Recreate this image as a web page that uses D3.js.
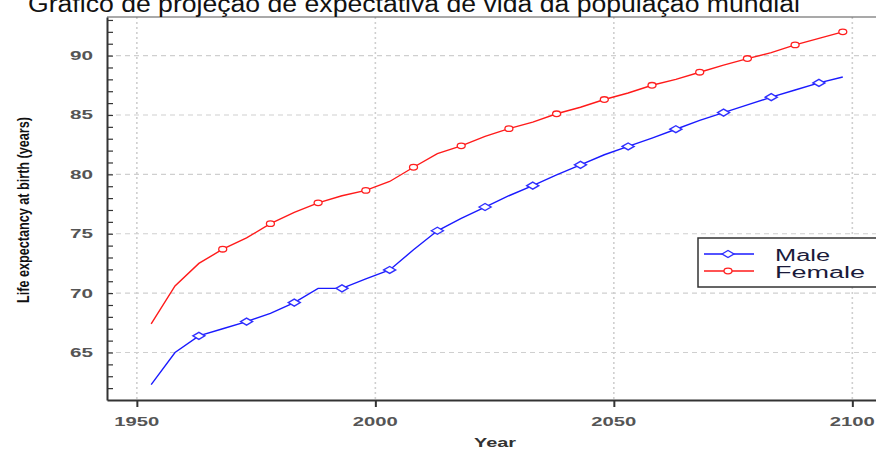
<!DOCTYPE html>
<html>
<head>
<meta charset="utf-8">
<script src="https://cdn.jsdelivr.net/npm/d3@7"></script>
<style>
  body { margin: 0; background: #fff; }
  text { font-family: "Liberation Sans", Arial, sans-serif; }
</style>
</head>
<body>
<div id="chart"></div>
<script>
// data (5-year periods)
var years = [1953, 1958, 1963, 1968, 1973, 1978, 1983, 1988, 1993, 1998,
             2003, 2008, 2013, 2018, 2023, 2028, 2033, 2038, 2043, 2048,
             2053, 2058, 2063, 2068, 2073, 2078, 2083, 2088, 2093, 2098]
var male = [62.3, 65.0, 66.4, 67.0, 67.6, 68.3, 69.2, 70.4, 70.4, 71.2,
            71.95, 73.65, 75.25, 76.3, 77.25, 78.2, 79.05, 79.95, 80.8, 81.65,
            82.35, 83.05, 83.8, 84.55, 85.2, 85.85, 86.5, 87.1, 87.7, 88.2]
var female = [67.4, 70.6, 72.5, 73.7, 74.65, 75.85, 76.8, 77.6, 78.2, 78.65,
              79.4, 80.6, 81.75, 82.4, 83.2, 83.85, 84.4, 85.1, 85.65, 86.3,
              86.85, 87.5, 88.0, 88.6, 89.2, 89.75, 90.25, 90.9, 91.45, 92.0]
var xTicks = [1950, 2000, 2050, 2100]
var yTicks = [65, 70, 75, 80, 85, 90]
var seriesNames = ["Male", "Female"]

var W = 876, H = 450
var margin = {top: 17, right: -4, bottom: 50, left: 107}
var width = W - margin.left - margin.right,
    height = H - margin.top - margin.bottom

var svg = d3.select("#chart").append("svg")
    .attr("width", W)
    .attr("height", H)

var g = svg.append("g")
    .attr("transform", "translate(" + margin.left + "," + margin.top + ")")

var x = d3.scaleLinear().domain([1943.74, 2105.8]).range([0, width])
var y = d3.scaleLinear().domain([61, 93.25]).range([height, 0])

// grid
g.selectAll(".hgrid")
  .data(yTicks)
  .enter().append("line")
  .attr("x1", 0).attr("x2", width)
  .attr("y1", d => y(d)).attr("y2", d => y(d))
  .attr("stroke", "#cfcfcf")
  .attr("stroke-width", 1.2)
  .attr("stroke-dasharray", "5,4")

g.selectAll(".vgrid")
  .data(xTicks)
  .enter().append("line")
  .attr("x1", d => x(d)).attr("x2", d => x(d))
  .attr("y1", 0).attr("y2", height)
  .attr("stroke", "#cfcfcf")
  .attr("stroke-width", 1.6)
  .attr("stroke-dasharray", "2,3")

// box top
g.append("line")
  .attr("x1", 0).attr("x2", width)
  .attr("y1", 0).attr("y2", 0)
  .attr("stroke", "#555").attr("stroke-width", 1.2)

// lines
var maleData = years.map((yr, i) => ({year: yr, v: male[i], i: i}))
var femaleData = years.map((yr, i) => ({year: yr, v: female[i], i: i}))

var line = d3.line().x(d => x(d.year)).y(d => y(d.v))

g.append("path").datum(maleData)
  .attr("fill", "none").attr("stroke", "#1a1aff").attr("stroke-width", 1.4)
  .attr("d", line)

g.append("path").datum(femaleData)
  .attr("fill", "none").attr("stroke", "#ff1a1a").attr("stroke-width", 1.4)
  .attr("d", line)

var diamond = "M-6,0L0,-3.5L6,0L0,3.5Z"

g.selectAll(".mpt")
  .data(maleData.filter(d => d.i >= 2 && d.i % 2 === 0 && d.i < years.length - 1))
  .enter().append("path")
  .attr("d", diamond)
  .attr("transform", d => "translate(" + x(d.year) + "," + y(d.v) + ")")
  .attr("fill", "#fff").attr("stroke", "#3030ff").attr("stroke-width", 1.4)

g.selectAll(".fpt")
  .data(femaleData.filter(d => d.i >= 3 && d.i % 2 === 1))
  .enter().append("ellipse")
  .attr("cx", d => x(d.year)).attr("cy", d => y(d.v))
  .attr("rx", 4).attr("ry", 2.8)
  .attr("fill", "#fff").attr("stroke", "#ff2020").attr("stroke-width", 1.3)

// axes
var yAxis = d3.axisLeft(y).tickValues(d3.range(62, 94)).tickSizeInner(-6).tickSizeOuter(0).tickFormat("")
g.append("g").attr("class", "axis y-axis").call(yAxis)
  .call(s => s.select(".domain").attr("stroke", "#333").attr("stroke-width", 2))
  .call(s => s.selectAll(".tick line").attr("stroke", "#333").attr("stroke-width", 1.2))

g.selectAll(".ylab")
  .data(yTicks)
  .enter().append("text")
  .attr("x", -14).attr("y", d => y(d) + 4.5)
  .attr("text-anchor", "end")
  .attr("font-size", 12).attr("font-weight", "bold").attr("fill", "#555")
  .attr("textLength", 23).attr("lengthAdjust", "spacingAndGlyphs")
  .text(d => d)

var xAxis = d3.axisBottom(x).tickValues(xTicks).tickSize(7).tickSizeOuter(0).tickFormat("")
g.append("g").attr("class", "axis x-axis")
  .attr("transform", "translate(0," + height + ")")
  .call(xAxis)
  .call(s => s.select(".domain").attr("stroke", "#333").attr("stroke-width", 2))
  .call(s => s.selectAll(".tick line").attr("stroke", "#333").attr("stroke-width", 2))

g.selectAll(".xlab")
  .data(xTicks)
  .enter().append("text")
  .attr("x", d => x(d)).attr("y", height + 26)
  .attr("text-anchor", "middle")
  .attr("font-size", 12).attr("font-weight", "bold").attr("fill", "#555")
  .attr("textLength", 45).attr("lengthAdjust", "spacingAndGlyphs")
  .text(d => d)

// axis titles
svg.append("text")
  .attr("x", 495).attr("y", 447)
  .attr("text-anchor", "middle")
  .attr("font-size", 12).attr("font-weight", "bold").attr("fill", "#333")
  .attr("textLength", 42).attr("lengthAdjust", "spacingAndGlyphs")
  .text("Year")

svg.append("text")
  .attr("transform", "translate(29,210) rotate(-90)")
  .attr("text-anchor", "middle")
  .attr("font-size", 16).attr("font-weight", "bold").attr("fill", "#111")
  .attr("textLength", 186).attr("lengthAdjust", "spacingAndGlyphs")
  .text("Life expectancy at birth (years)")

// title (cut at top, as in the original)
svg.append("text")
  .attr("x", 28).attr("y", 12)
  .attr("font-size", 23).attr("fill", "#111")
  .attr("textLength", 772).attr("lengthAdjust", "spacingAndGlyphs")
  .text("Gráfico de projeção de expectativa de vida da população mundial")

// legend
var legend = svg.append("g").attr("transform", "translate(698,238)")
legend.append("rect")
  .attr("width", 190).attr("height", 49)
  .attr("fill", "#fff").attr("stroke", "#333").attr("stroke-width", 1.5)

var colors = ["#1a1aff", "#ff1a1a"]
var lengths = [55, 90]
seriesNames.forEach(function(name, i) {
  var ly = 16 + i * 17
  legend.append("line")
    .attr("x1", 6).attr("x2", 56).attr("y1", ly).attr("y2", ly)
    .attr("stroke", colors[i]).attr("stroke-width", 1.4)
  if (i === 0) {
    legend.append("path").attr("d", diamond)
      .attr("transform", "translate(30," + ly + ")")
      .attr("fill", "#fff").attr("stroke", "#3030ff").attr("stroke-width", 1.4)
  } else {
    legend.append("ellipse").attr("cx", 30).attr("cy", ly).attr("rx", 4).attr("ry", 2.8)
      .attr("fill", "#fff").attr("stroke", "#ff2020").attr("stroke-width", 1.3)
  }
  legend.append("text")
    .attr("x", 77).attr("y", ly + 7)
    .attr("font-size", 16).attr("fill", "#1a1a3a")
    .attr("textLength", lengths[i]).attr("lengthAdjust", "spacingAndGlyphs")
    .text(name)
})
</script>
</body>
</html>
